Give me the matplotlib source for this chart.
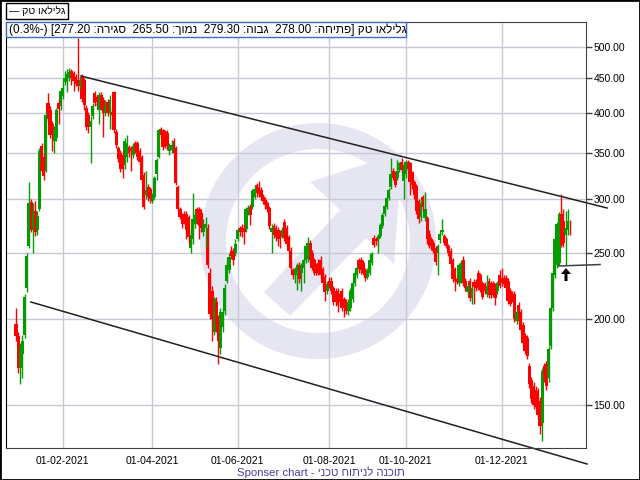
import matplotlib.pyplot as plt
from matplotlib.patches import Annulus, Polygon, Rectangle, FancyArrow
from matplotlib.ticker import FuncFormatter, NullLocator

# daily candles, Jan 2021 - Jan 2022 (trading-day index)
opens = [197, 189, 170, 178, 190, 222, 256, 297, 272, 288, 270, 290, 358, 346, 330, 414, 404, 386, 364, 368,
         414, 410, 424, 444, 450, 452, 462, 458, 452, 448, 438, 452, 447, 408, 398, 382, 396, 428, 422, 405,
         426, 418, 400, 416, 400, 402, 430, 376, 356, 350, 348, 336, 346, 357, 356, 348, 362, 362, 352, 346,
         325, 304, 312, 310, 298, 302, 326, 346, 380, 378, 376, 374, 352, 354, 364, 356, 312, 290, 284, 285,
         285, 282, 254, 262, 276, 290, 290, 286, 268, 272, 272, 234, 220, 192, 212, 200, 182, 195, 206, 228,
         236, 252, 252, 250, 262, 272, 273, 272, 271, 287, 292, 292, 302, 314, 312, 309, 302, 299, 296, 291,
         268, 274, 272, 270, 268, 266, 278, 272, 264, 252, 236, 232, 234, 240, 234, 238, 244, 245, 259, 250,
         244, 240, 242, 244, 237, 231, 220, 228, 228, 222, 220, 220, 218, 220, 214, 212, 206, 208, 214, 226,
         232, 244, 244, 242, 236, 231, 234, 242, 263, 262, 262, 265, 274, 285, 292, 301, 312, 330, 328, 322,
         331, 340, 319, 326, 340, 338, 328, 318, 313, 298, 282, 302, 281, 281, 267, 262, 259, 254, 250, 261,
         268, 265, 262, 256, 252, 244, 237, 229, 226, 228, 244, 228, 219, 228, 215, 227, 227, 234, 232, 226,
         225, 218, 228, 226, 226, 224, 220, 232, 230, 230, 230, 228, 220, 218, 218, 199, 210, 205, 196, 189,
         188, 171, 163, 160, 158, 157, 152, 141, 171, 172, 164, 183, 208, 232, 240, 242, 285, 279, 266, 270,
         278.0]
highs = [208, 192, 185, 190, 218, 250, 318, 300, 296, 298, 288, 356, 362, 350, 402, 428, 410, 390, 384, 408,
         420, 436, 446, 462, 464, 466, 464, 462, 456, 515, 452, 456, 450, 412, 402, 396, 414, 432, 426, 430,
         430, 422, 418, 420, 425, 408, 432, 380, 358, 354, 352, 368, 372, 360, 358, 362, 364, 364, 356, 348,
         328, 330, 315, 312, 306, 324, 344, 380, 382, 380, 378, 378, 362, 366, 368, 358, 314, 292, 286, 288,
         288, 284, 272, 306, 288, 292, 292, 290, 280, 282, 276, 238, 224, 216, 216, 203, 208, 208, 225, 244,
         250, 256, 254, 262, 272, 274, 276, 276, 292, 294, 295, 310, 314, 316, 319, 312, 305, 302, 298, 293,
         276, 277, 275, 273, 270, 273, 280, 275, 266, 255, 238, 239, 242, 243, 242, 246, 258, 264, 261, 253,
         246, 242, 245, 248, 239, 233, 228, 231, 231, 224, 222, 222, 220, 222, 216, 214, 214, 222, 228, 236,
         240, 246, 247, 244, 238, 238, 250, 251, 266, 264, 267, 277, 286, 295, 303, 311, 344, 333, 330, 342,
         340, 344, 338, 342, 342, 340, 330, 320, 315, 300, 300, 304, 307, 283, 270, 264, 261, 256, 258, 269,
         280, 267, 264, 258, 254, 246, 239, 231, 242, 244, 248, 230, 226, 230, 224, 229, 229, 236, 234, 228,
         227, 232, 230, 228, 228, 226, 228, 236, 238, 232, 232, 230, 222, 220, 220, 207, 212, 207, 198, 191,
         190, 173, 165, 162, 160, 159, 154, 170, 173, 174, 183, 210, 236, 264, 278, 287, 305, 290, 288, 290,
         279.3]
lows = [186, 167, 161, 164, 188, 219, 254, 268, 250, 265, 266, 288, 326, 320, 328, 388, 368, 352, 350, 364,
        386, 404, 420, 440, 430, 446, 440, 432, 438, 432, 434, 416, 405, 378, 374, 339, 392, 410, 410, 386,
        404, 370, 396, 396, 380, 380, 374, 356, 340, 328, 322, 332, 340, 345, 330, 344, 350, 342, 336, 316,
        290, 300, 298, 296, 296, 300, 320, 344, 368, 354, 356, 354, 348, 350, 346, 314, 286, 280, 272, 276,
        262, 258, 250, 258, 272, 276, 262, 268, 265, 255, 238, 200, 186, 190, 192, 172, 178, 192, 203, 226,
        234, 245, 240, 248, 260, 265, 264, 258, 268, 284, 275, 290, 300, 302, 302, 299, 295, 290, 287, 271,
        250, 263, 260, 256, 254, 263, 260, 255, 250, 236, 229, 226, 221, 226, 220, 226, 242, 243, 241, 236,
        232, 232, 232, 230, 224, 213, 218, 222, 218, 210, 209, 205, 209, 206, 202, 204, 203, 206, 212, 224,
        230, 234, 233, 232, 228, 229, 232, 240, 255, 257, 250, 263, 272, 283, 290, 299, 310, 320, 312, 320,
        329, 328, 300, 322, 330, 304, 310, 300, 285, 277, 279, 288, 279, 258, 254, 253, 250, 240, 232, 259,
        266, 257, 254, 248, 239, 227, 220, 225, 224, 226, 224, 220, 217, 213, 211, 211, 220, 221, 219, 214,
        218, 216, 215, 215, 216, 210, 218, 222, 224, 223, 220, 211, 209, 212, 198, 197, 196, 191, 183, 178,
        175, 159, 151, 148, 147, 143, 136, 133, 162, 158, 162, 181, 206, 230, 238, 240, 255, 255, 240, 266,
        265.5]
closes = [189, 170, 182, 186, 216, 248, 296, 270, 286, 268, 283, 352, 330, 324, 398, 392, 372, 372, 378, 404,
          406, 432, 436, 450, 456, 460, 450, 446, 442, 438, 448, 420, 411, 382, 382, 390, 410, 414, 415, 425,
          408, 400, 410, 400, 418, 398, 378, 360, 343, 332, 332, 364, 362, 350, 352, 358, 353, 346, 340, 320,
          292, 309, 302, 300, 302, 322, 342, 378, 372, 357, 362, 358, 358, 360, 350, 316, 290, 282, 276, 280,
          270, 264, 266, 280, 284, 280, 274, 272, 274, 276, 240, 204, 200, 214, 196, 186, 205, 205, 222, 240,
          247, 248, 244, 258, 270, 268, 268, 268, 290, 291, 284, 308, 310, 306, 305, 302, 298, 294, 290, 274,
          272, 266, 264, 262, 264, 270, 263, 258, 252, 238, 232, 237, 240, 229, 240, 244, 256, 259, 244, 238,
          234, 235, 234, 232, 226, 219, 225, 224, 220, 212, 212, 210, 212, 208, 208, 206, 212, 220, 226, 234,
          238, 237, 236, 234, 230, 236, 244, 249, 257, 260, 265, 275, 284, 293, 301, 309, 326, 322, 314, 330,
          338, 331, 336, 340, 332, 318, 314, 304, 288, 280, 296, 292, 290, 262, 256, 256, 252, 243, 256, 267,
          270, 259, 256, 250, 241, 229, 228, 227, 240, 242, 226, 222, 224, 215, 222, 223, 222, 223, 221, 216,
          220, 224, 217, 217, 218, 215, 226, 224, 226, 225, 222, 213, 211, 214, 200, 205, 199, 193, 185, 180,
          177, 161, 153, 150, 149, 145, 140, 168, 164, 160, 181, 208, 234, 262, 276, 285, 257, 259, 272, 279,
          277.2]

date_ticks = [22, 64, 104, 147, 183, 228]
date_labels = ["01-02-2021", "01-04-2021", "01-06-2021", "01-08-2021", "01-10-2021", "01-12-2021"]
price_ticks = [150, 200, 250, 300, 350, 400, 450, 500]

# hand-drawn lines on the chart (index, price)
upper_line = ([30.5, 277.5], [453.6, 291.0])
lower_line = ([7.0, 268.1], [212.1, 123.0])
support_line = ([254.5, 274.2], [239.4, 240.6])

change_pct = -0.3
name = "גלילאו טק"


def heb(s):
    # matplotlib has no bidi: give Hebrew in visual (left to right) order
    return s[::-1]


plt.rcParams["font.family"] = ["Liberation Sans", "DejaVu Sans"]

fig = plt.figure(figsize=(6.4, 4.8), dpi=100)
W, H = 640, 480
L, R, T, B = 6, 586, 22, 448
rect = [L / W, 1 - B / H, (R - L) / W, (B - T) / H]

# watermark logo + arrow marker, drawn in pixel units behind the chart
wm = fig.add_axes(rect, zorder=0)
wm.set_xlim(L, R)
wm.set_ylim(B, T)
wm.axis("off")
logo = "#E6E6F2"
wm.add_patch(Annulus((318, 241), 118, 26, color=logo, lw=0))
wm.add_patch(Polygon([(402, 152), (310, 182), (340, 210), (264, 292), (290, 316), (366, 238), (394, 264)],
                     closed=True, color=logo, lw=0))
wm.add_patch(FancyArrow(566, 281, 0, -13, width=3, head_width=10, head_length=6,
                        length_includes_head=True, color="black", lw=0))

ax = fig.add_axes(rect, zorder=1)
ax.patch.set_alpha(0)

red, green = "#FF0000", "#009C00"
for i in range(len(closes)):
    o, h, l, c = opens[i], highs[i], lows[i], closes[i]
    col = green if c >= o else red
    ax.vlines(i, l, h, color=col, lw=1.0)
    ax.bar(i, max(abs(c - o), 0.6), bottom=min(o, c), width=1.5, color=col, lw=0)

ax.plot(*upper_line, color="#202020", lw=1.1, clip_on=False)
ax.plot(*lower_line, color="#202020", lw=1.1, clip_on=False)
ax.plot(*support_line, color="#404040", lw=1.1, clip_on=False)

ax.set_yscale("log")
ax.set_ylim(129.8, 544)
ax.set_xlim(-4.7, 267.6)
ax.yaxis.tick_right()
ax.set_yticks(price_ticks)
ax.yaxis.set_major_formatter(FuncFormatter(lambda v, p: f"{v:.2f}"))
ax.yaxis.set_minor_locator(NullLocator())
ax.set_xticks(date_ticks)
ax.set_xticklabels(date_labels)
ax.tick_params(axis="y", length=4, width=1, color="#404040", pad=1.5, labelsize=7.5)
ax.tick_params(axis="x", length=0, pad=6, labelsize=7.5)
ax.grid(True, color="#C8C8D6", lw=1)
ax.set_axisbelow(True)
for s in ax.spines.values():
    s.set_color("#404040")
ax.spines["left"].set_color("black")

# legend box top-left
fig.text(9 / W, 1 - 11 / H, "— " + heb(name), fontsize=7.5, va="center", ha="left",
         bbox=dict(boxstyle="square,pad=0.25", fc="white", ec="black", lw=1))

# OHLC info box
info = (f"({abs(change_pct)}%-) [{closes[-1]:.2f} :{heb('סגירה')}  {lows[-1]:.2f} :{heb('נמוך')}  "
        f"{highs[-1]:.2f} :{heb('גבוה')}  {opens[-1]:.2f} :{heb('פתיחה')}] {heb(name)}")
fig.add_artist(Rectangle((L / W, 1 - 37 / H), 400 / W, 15 / H, transform=fig.transFigure,
                         fc="white", ec="#3A6BC8", lw=1, zorder=5))
fig.text(9 / W, 1 - 29.5 / H, info, fontsize=8.5, va="center", ha="left", zorder=6)

fig.text(321 / W, 1 - 472 / H, "Sponser chart - " + heb("תוכנה לניתוח טכני"),
         fontsize=8.2, color="#4B3CA0", ha="center", va="center")

fig.add_artist(Rectangle((0, 0), 1, 1, transform=fig.transFigure, fill=False, ec="black", lw=2, zorder=10))

fig.savefig("out.png", dpi=100)
